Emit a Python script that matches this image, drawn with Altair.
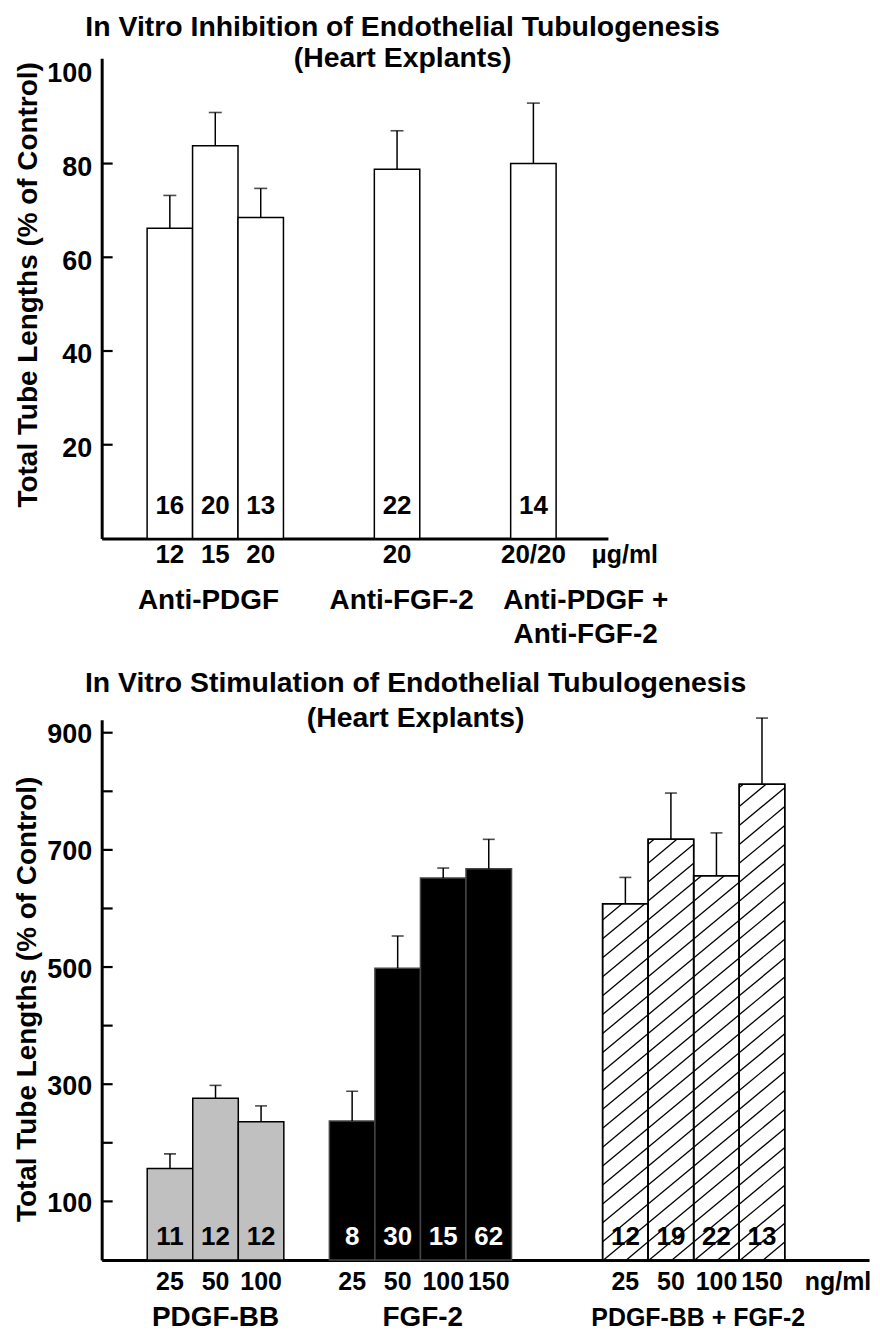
import altair as alt
import numpy as np
import pandas as pd

FONT = "Liberation Sans"
YTITLE = "Total Tube Lengths (% of Control)"

# ---------------- data: top panel (inhibition) ----------------
top_title = ["In Vitro Inhibition of Endothelial Tubulogenesis", "(Heart Explants)"]
top_groups = ["Anti-PDGF", "Anti-FGF-2", "Anti-PDGF +\nAnti-FGF-2"]
top_bar_group = [0, 0, 0, 1, 2]
top_doses = ["12", "15", "20", "20", "20/20"]
top_values = [66.2, 83.8, 68.5, 78.8, 80.0]
top_errors = [7.0, 7.1, 6.2, 8.2, 12.9]
top_n = ["16", "20", "13", "22", "14"]
top_unit = "μg/ml"
top_ylabels = [20, 40, 60, 80, 100]
top_yticks = [20, 40, 60, 80]

# ---------------- data: bottom panel (stimulation) ----------------
bot_title = ["In Vitro Stimulation of Endothelial Tubulogenesis", "(Heart Explants)"]
bot_groups = ["PDGF-BB", "FGF-2", "PDGF-BB + FGF-2"]
bot_bar_group = [0, 0, 0, 1, 1, 1, 1, 2, 2, 2, 2]
bot_doses = ["25", "50", "100", "25", "50", "100", "150", "25", "50", "100", "150"]
bot_values = [156, 276, 236, 237, 498, 652, 668, 608, 718, 656, 812]
bot_errors = [25, 22, 27, 51, 55, 17, 50, 45, 79, 73, 113]
bot_n = ["11", "12", "12", "8", "30", "15", "62", "12", "19", "22", "13"]
bot_unit = "ng/ml"
bot_ylabels = [100, 300, 500, 700, 900]
bot_yticks = [100, 200, 300, 400, 500, 600, 700, 800, 900]

# ---------------- layout / style ----------------
TOP = dict(title=top_title, groups=top_groups, bar_group=top_bar_group, doses=top_doses,
           values=top_values, errors=top_errors, n=top_n, unit=top_unit,
           ylabels=top_ylabels, yticks=top_yticks,
           first=1, gaps=[2, 2], xmax=11.14, ymax=102.5, W=508, H=482, cap=13,
           fills=["white", "white", "white"], strokes=["black", "black", "black"],
           ncolors=["black", "black", "black"], hatched=[False, False, False],
           n_dy=-25, dose_fs=26, dose_dy=25, group_fs=[28, 28, 28], group_dy=71,
           group_shift=[-0.15, 0.1, 1.15], unit_slot=11.51, unit_fs=25,
           title_x=302, title_y=[-22, 9], ytitle_x=-65, ytitle_y=227, label_off=4)

BOT = dict(title=bot_title, groups=bot_groups, bar_group=bot_bar_group, doses=bot_doses,
           values=bot_values, errors=bot_errors, n=bot_n, unit=bot_unit,
           ylabels=bot_ylabels, yticks=bot_yticks,
           first=1, gaps=[1, 2], xmax=16.85, ymax=922, W=770, H=542, cap=12,
           fills=["#c0c0c0", "black", "white"], strokes=["black", "#444444", "black"],
           ncolors=["black", "white", "black"], hatched=[False, False, True],
           n_dy=-15, dose_fs=25, dose_dy=30, group_fs=[28, 28, 25], group_dy=66,
           group_shift=[0.0, 0.05, 0.1], unit_slot=16.17, unit_fs=25,
           title_x=315, title_y=[-28, 7], ytitle_x=-66, ytitle_y=280, label_off=2)

HATCH_SPACING = 19.0   # px, vertical distance between hatch lines
HATCH_SLOPE = 0.83     # rise over run of hatch lines
TITLE_FS = 28.5
TICKLABEL_FS = 27


def slot_lefts(bar_group, first, gaps):
    out, cur, prev = [], first, bar_group[0]
    for g in bar_group:
        if g != prev:
            cur += gaps[g - 1]
            prev = g
        out.append(cur)
        cur += 1
    return out


def hatch_segments(lefts, values, px_slot, px_unit):
    rows = []
    for x0, v in zip(lefts, values):
        X0, X1, Ht = x0 * px_slot, (x0 + 1) * px_slot, v * px_unit
        k0 = int(np.floor((-HATCH_SLOPE * X1) / HATCH_SPACING)) - 1
        k1 = int(np.ceil((Ht - HATCH_SLOPE * X0) / HATCH_SPACING)) + 1
        for k in range(k0, k1 + 1):
            c = k * HATCH_SPACING
            xa = max(X0, (0 - c) / HATCH_SLOPE)
            xb = min(X1, (Ht - c) / HATCH_SLOPE)
            if xb - xa > 0.5:
                rows.append(dict(hx=xa / px_slot, hx2=xb / px_slot,
                                 hy=(HATCH_SLOPE * xa + c) / px_unit,
                                 hy2=(HATCH_SLOPE * xb + c) / px_unit))
    return pd.DataFrame(rows)


def build_panel(cfg):
    lefts = slot_lefts(cfg["bar_group"], cfg["first"], cfg["gaps"])
    g = cfg["bar_group"]
    df = pd.DataFrame({
        "x0": lefts,
        "value": cfg["values"],
        "err": cfg["errors"],
        "n": cfg["n"],
        "dose": cfg["doses"],
        "grp": g,
    })
    df["x1"] = df["x0"] + 1
    df["xc"] = df["x0"] + 0.5
    df["top"] = df["value"] + df["err"]
    df["zero"] = 0
    df["fill"] = [cfg["fills"][i] for i in g]
    df["stroke"] = [cfg["strokes"][i] for i in g]
    df["ncolor"] = [cfg["ncolors"][i] for i in g]
    df["hatched"] = [cfg["hatched"][i] for i in g]

    xs = alt.Scale(domain=[0, cfg["xmax"]], nice=False, zero=False)
    ys = alt.Scale(domain=[0, cfg["ymax"]], nice=False, zero=False)
    xa = alt.Axis(labels=False, ticks=False, grid=False, title=None,
                  domainColor="black", domainWidth=3)
    ya = alt.Axis(values=cfg["ylabels"], title=YTITLE, titleX=cfg["ytitle_x"],
                  titleY=cfg["ytitle_y"], titleAngle=270, titleAlign="center",
                  titleBaseline="alphabetic", titleFont=FONT, titleFontSize=28,
                  titleFontWeight="bold", titleColor="black",
                  labelFont=FONT, labelFontSize=TICKLABEL_FS, labelFontWeight="bold",
                  labelColor="black", labelPadding=10, labelOffset=cfg["label_off"],
                  ticks=False, grid=False, domainColor="black", domainWidth=3, format="d")

    def X(f):
        return alt.X(f, type="quantitative", scale=xs, axis=xa)

    def Y(f):
        return alt.Y(f, type="quantitative", scale=ys, axis=ya)

    base = alt.Chart(df)
    layers = []
    layers.append(base.mark_rect(strokeWidth=1.5).encode(
        x=X("x0"), x2="x1", y=Y("value"), y2="zero",
        fill=alt.Fill("fill:N", scale=None), stroke=alt.Stroke("stroke:N", scale=None)))

    if any(cfg["hatched"]):
        hd = df[df["hatched"]]
        px_slot = cfg["W"] / cfg["xmax"]
        px_unit = cfg["H"] / cfg["ymax"]
        hdf = hatch_segments(list(hd["x0"]), list(hd["value"]), px_slot, px_unit)
        layers.append(alt.Chart(hdf).mark_rule(strokeWidth=1.3, color="black").encode(
            x=X("hx"), x2="hx2", y=Y("hy"), y2="hy2"))
        layers.append(alt.Chart(hd).mark_rect(fillOpacity=0, stroke="black", strokeWidth=1.5).encode(
            x=X("x0"), x2="x1", y=Y("value"), y2="zero"))

    layers.append(base.mark_rule(strokeWidth=1.5, color="black").encode(
        x=X("xc"), y=Y("value"), y2="top"))
    layers.append(base.mark_tick(orient="horizontal", size=cfg["cap"], thickness=1.6,
                                 color="black").encode(x=X("xc"), y=Y("top")))
    layers.append(base.mark_text(font=FONT, fontSize=26, fontWeight="bold",
                                 baseline="alphabetic", dy=cfg["n_dy"]).encode(
        x=X("xc"), y=Y("zero"), text="n:N", color=alt.Color("ncolor:N", scale=None)))
    layers.append(base.mark_text(font=FONT, fontSize=cfg["dose_fs"], fontWeight="bold",
                                 baseline="alphabetic", dy=cfg["dose_dy"], color="black").encode(
        x=X("xc"), y=Y("zero"), text="dose:N"))

    # group labels
    gx = df.groupby("grp")["xc"].mean()
    gdf = pd.DataFrame({
        "label": cfg["groups"],
        "gx": [gx[i] + cfg["group_shift"][i] for i in range(len(cfg["groups"]))],
        "fs": cfg["group_fs"],
        "zero": 0,
    })
    layers.append(alt.Chart(gdf).mark_text(font=FONT, fontWeight="bold", baseline="alphabetic",
                                           dy=cfg["group_dy"], lineBreak="\n", lineHeight=34,
                                           color="black").encode(
        x=X("gx"), y=Y("zero"), text="label:N", size=alt.Size("fs:Q", scale=None)))

    # unit label
    udf = pd.DataFrame({"t": [cfg["unit"]], "ux": [cfg["unit_slot"]], "zero": [0]})
    layers.append(alt.Chart(udf).mark_text(font=FONT, fontSize=cfg["unit_fs"], fontWeight="bold",
                                           baseline="alphabetic", dy=cfg["dose_dy"],
                                           color="black").encode(
        x=X("ux"), y=Y("zero"), text="t:N"))

    # inward y ticks
    tdf = pd.DataFrame({"v": cfg["yticks"]})
    layers.append(alt.Chart(tdf).mark_rule(strokeWidth=2.2, color="black").encode(
        y=Y("v"), x=alt.value(0), x2=alt.value(11)))

    # two-line title
    for line, ty in zip(cfg["title"], cfg["title_y"]):
        layers.append(alt.Chart(pd.DataFrame({"t": [line]})).mark_text(
            font=FONT, fontSize=TITLE_FS, fontWeight="bold", baseline="alphabetic",
            align="center", color="black").encode(
            text="t:N", x=alt.value(cfg["title_x"]), y=alt.value(ty)))

    return alt.layer(*layers).properties(width=cfg["W"], height=cfg["H"])


top = build_panel(TOP)
bot = build_panel(BOT)

chart = alt.vconcat(top, bot, spacing=20).resolve_scale(
    x="independent", y="independent").properties(
    padding={"left": 5, "top": 3, "right": 0, "bottom": 0}
).configure_view(stroke=None)

chart.save("out.html", embed_options={"renderer": "svg", "actions": False})
